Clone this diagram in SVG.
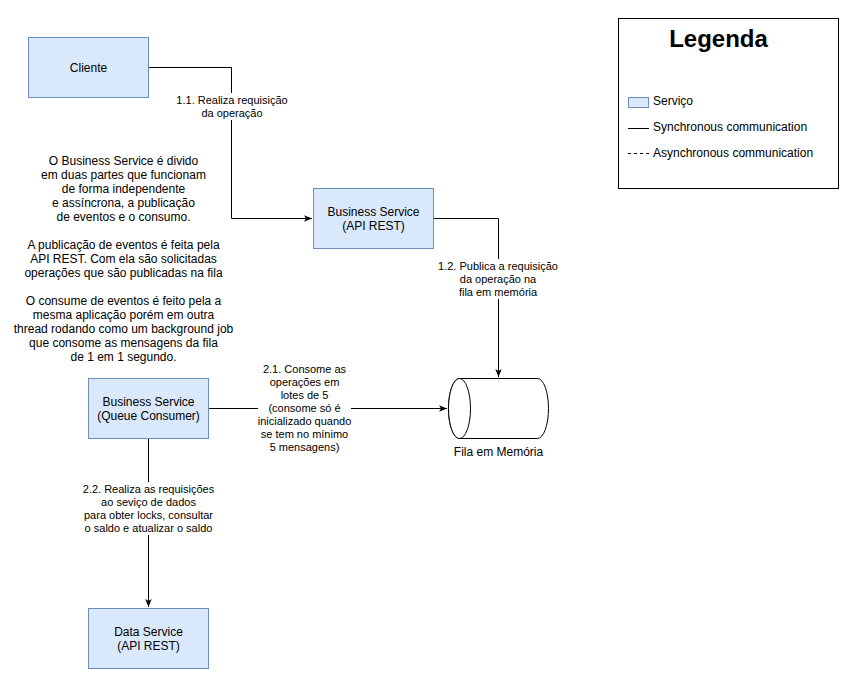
<svg xmlns="http://www.w3.org/2000/svg" width="851" height="681" viewBox="0 0 851 681">
<style>
text{font-family:"Liberation Sans",Arial,sans-serif;fill:#000}
.svc{fill:#dae8fc;stroke:#6c8ebf;stroke-width:1}
.node{font-size:12px;text-anchor:middle;dominant-baseline:central}
.lbl{font-size:11px;text-anchor:middle;dominant-baseline:central}
.edge{fill:none;stroke:#000;stroke-width:1}
.bg{fill:#fff}
.leg{font-size:12px;dominant-baseline:central}
</style>
<defs>
<marker id="arr" viewBox="0 0 10 10" refX="10" refY="5" markerWidth="8" markerHeight="8" markerUnits="userSpaceOnUse" orient="auto">
<path d="M0,1 L10,5 L0,9 L2.5,5 Z" fill="#000"/>
</marker>
</defs>
<rect width="851" height="681" fill="#fff"/>
<g id="connectors">
<path class="edge" d="M148.5,67.5 H231.5 V218.5 H312" marker-end="url(#arr)"/>
<rect class="bg" x="175" y="93" width="114" height="27"/>
<text class="lbl" x="232" y="100">1.1. Realiza requisição</text>
<text class="lbl" x="232" y="113">da operação</text>
<path class="edge" d="M433.5,218.5 H498.5 V377" marker-end="url(#arr)"/>
<rect class="bg" x="437" y="259" width="123" height="40"/>
<text class="lbl" x="498" y="266">1.2. Publica a requisição</text>
<text class="lbl" x="498" y="279">da operação na</text>
<text class="lbl" x="498" y="292">fila em memória</text>
<path class="edge" d="M208.5,408.5 H447" marker-end="url(#arr)"/>
<rect class="bg" x="258" y="362" width="93" height="92"/>
<text class="lbl" x="304.5" y="369">2.1. Consome as</text>
<text class="lbl" x="304.5" y="382">operações em</text>
<text class="lbl" x="304.5" y="395">lotes de 5</text>
<text class="lbl" x="304.5" y="408">(consome só é</text>
<text class="lbl" x="304.5" y="421">inicializado quando</text>
<text class="lbl" x="304.5" y="434">se tem no mínimo</text>
<text class="lbl" x="304.5" y="447">5 mensagens)</text>
<path class="edge" d="M148.5,438.5 V607" marker-end="url(#arr)"/>
<rect class="bg" x="80" y="482" width="137" height="53"/>
<text class="lbl" x="148.5" y="489">2.2. Realiza as requisições</text>
<text class="lbl" x="148.5" y="502">ao seviço de dados</text>
<text class="lbl" x="148.5" y="515">para obter locks, consultar</text>
<text class="lbl" x="148.5" y="528">o saldo e atualizar o saldo</text>
</g>
<g id="cliente">
<rect class="svc" x="28.5" y="37.5" width="120" height="60"/>
<text class="node" x="88.5" y="67.5">Cliente</text>
</g>
<g id="business-api">
<rect class="svc" x="313.5" y="188.5" width="120" height="60"/>
<text class="node" x="373.5" y="211.5">Business Service</text>
<text class="node" x="373.5" y="225.5">(API REST)</text>
</g>
<g id="business-consumer">
<rect class="svc" x="88.5" y="378.5" width="120" height="60"/>
<text class="node" x="148.5" y="401.5">Business Service</text>
<text class="node" x="148.5" y="415.5">(Queue Consumer)</text>
</g>
<g id="data-service">
<rect class="svc" x="88.5" y="608.5" width="120" height="60"/>
<text class="node" x="148.5" y="631.5">Data Service</text>
<text class="node" x="148.5" y="645.5">(API REST)</text>
</g>
<g id="fila">
<path d="M459.5,378.5 H537.5 A11,30 0 0 1 537.5,438.5 H459.5 A11,30 0 0 1 459.5,378.5 Z" fill="#fff" stroke="#000"/>
<ellipse cx="459.5" cy="408.5" rx="11" ry="30" fill="#fff" stroke="#000"/>
<text class="node" x="498.5" y="451.5">Fila em Memória</text>
</g>
<g id="nota">
<text class="node" x="123.5" y="160.5">O Business Service é divido</text>
<text class="node" x="123.5" y="174.5">em duas partes que funcionam</text>
<text class="node" x="123.5" y="188.5">de forma independente</text>
<text class="node" x="123.5" y="202.5">e assíncrona, a publicação</text>
<text class="node" x="123.5" y="216.5">de eventos e o consumo.</text>
<text class="node" x="123.5" y="244.5">A publicação de eventos é feita pela</text>
<text class="node" x="123.5" y="258.5">API REST. Com ela são solicitadas</text>
<text class="node" x="123.5" y="272.5">operações que são publicadas na fila</text>
<text class="node" x="123.5" y="300.5">O consume de eventos é feito pela a</text>
<text class="node" x="123.5" y="314.5">mesma aplicação porém em outra</text>
<text class="node" x="123.5" y="328.5">thread rodando como um background job</text>
<text class="node" x="123.5" y="342.5">que consome as mensagens da fila</text>
<text class="node" x="123.5" y="356.5">de 1 em 1 segundo.</text>
</g>
<g id="legenda">
<rect x="618.5" y="18.5" width="220" height="170" fill="#fff" stroke="#000"/>
<text x="718.5" y="38" font-size="24" font-weight="bold" text-anchor="middle" dominant-baseline="central">Legenda</text>
<rect class="svc" x="628.5" y="97.5" width="20" height="10"/>
<text class="leg" x="653" y="101">Serviço</text>
<line x1="628" y1="128.5" x2="649" y2="128.5" stroke="#000"/>
<text class="leg" x="653" y="127">Synchronous communication</text>
<line x1="628" y1="153.5" x2="649" y2="153.5" stroke="#000" stroke-dasharray="3,3"/>
<text class="leg" x="653" y="153">Asynchronous communication</text>
</g>
</svg>
